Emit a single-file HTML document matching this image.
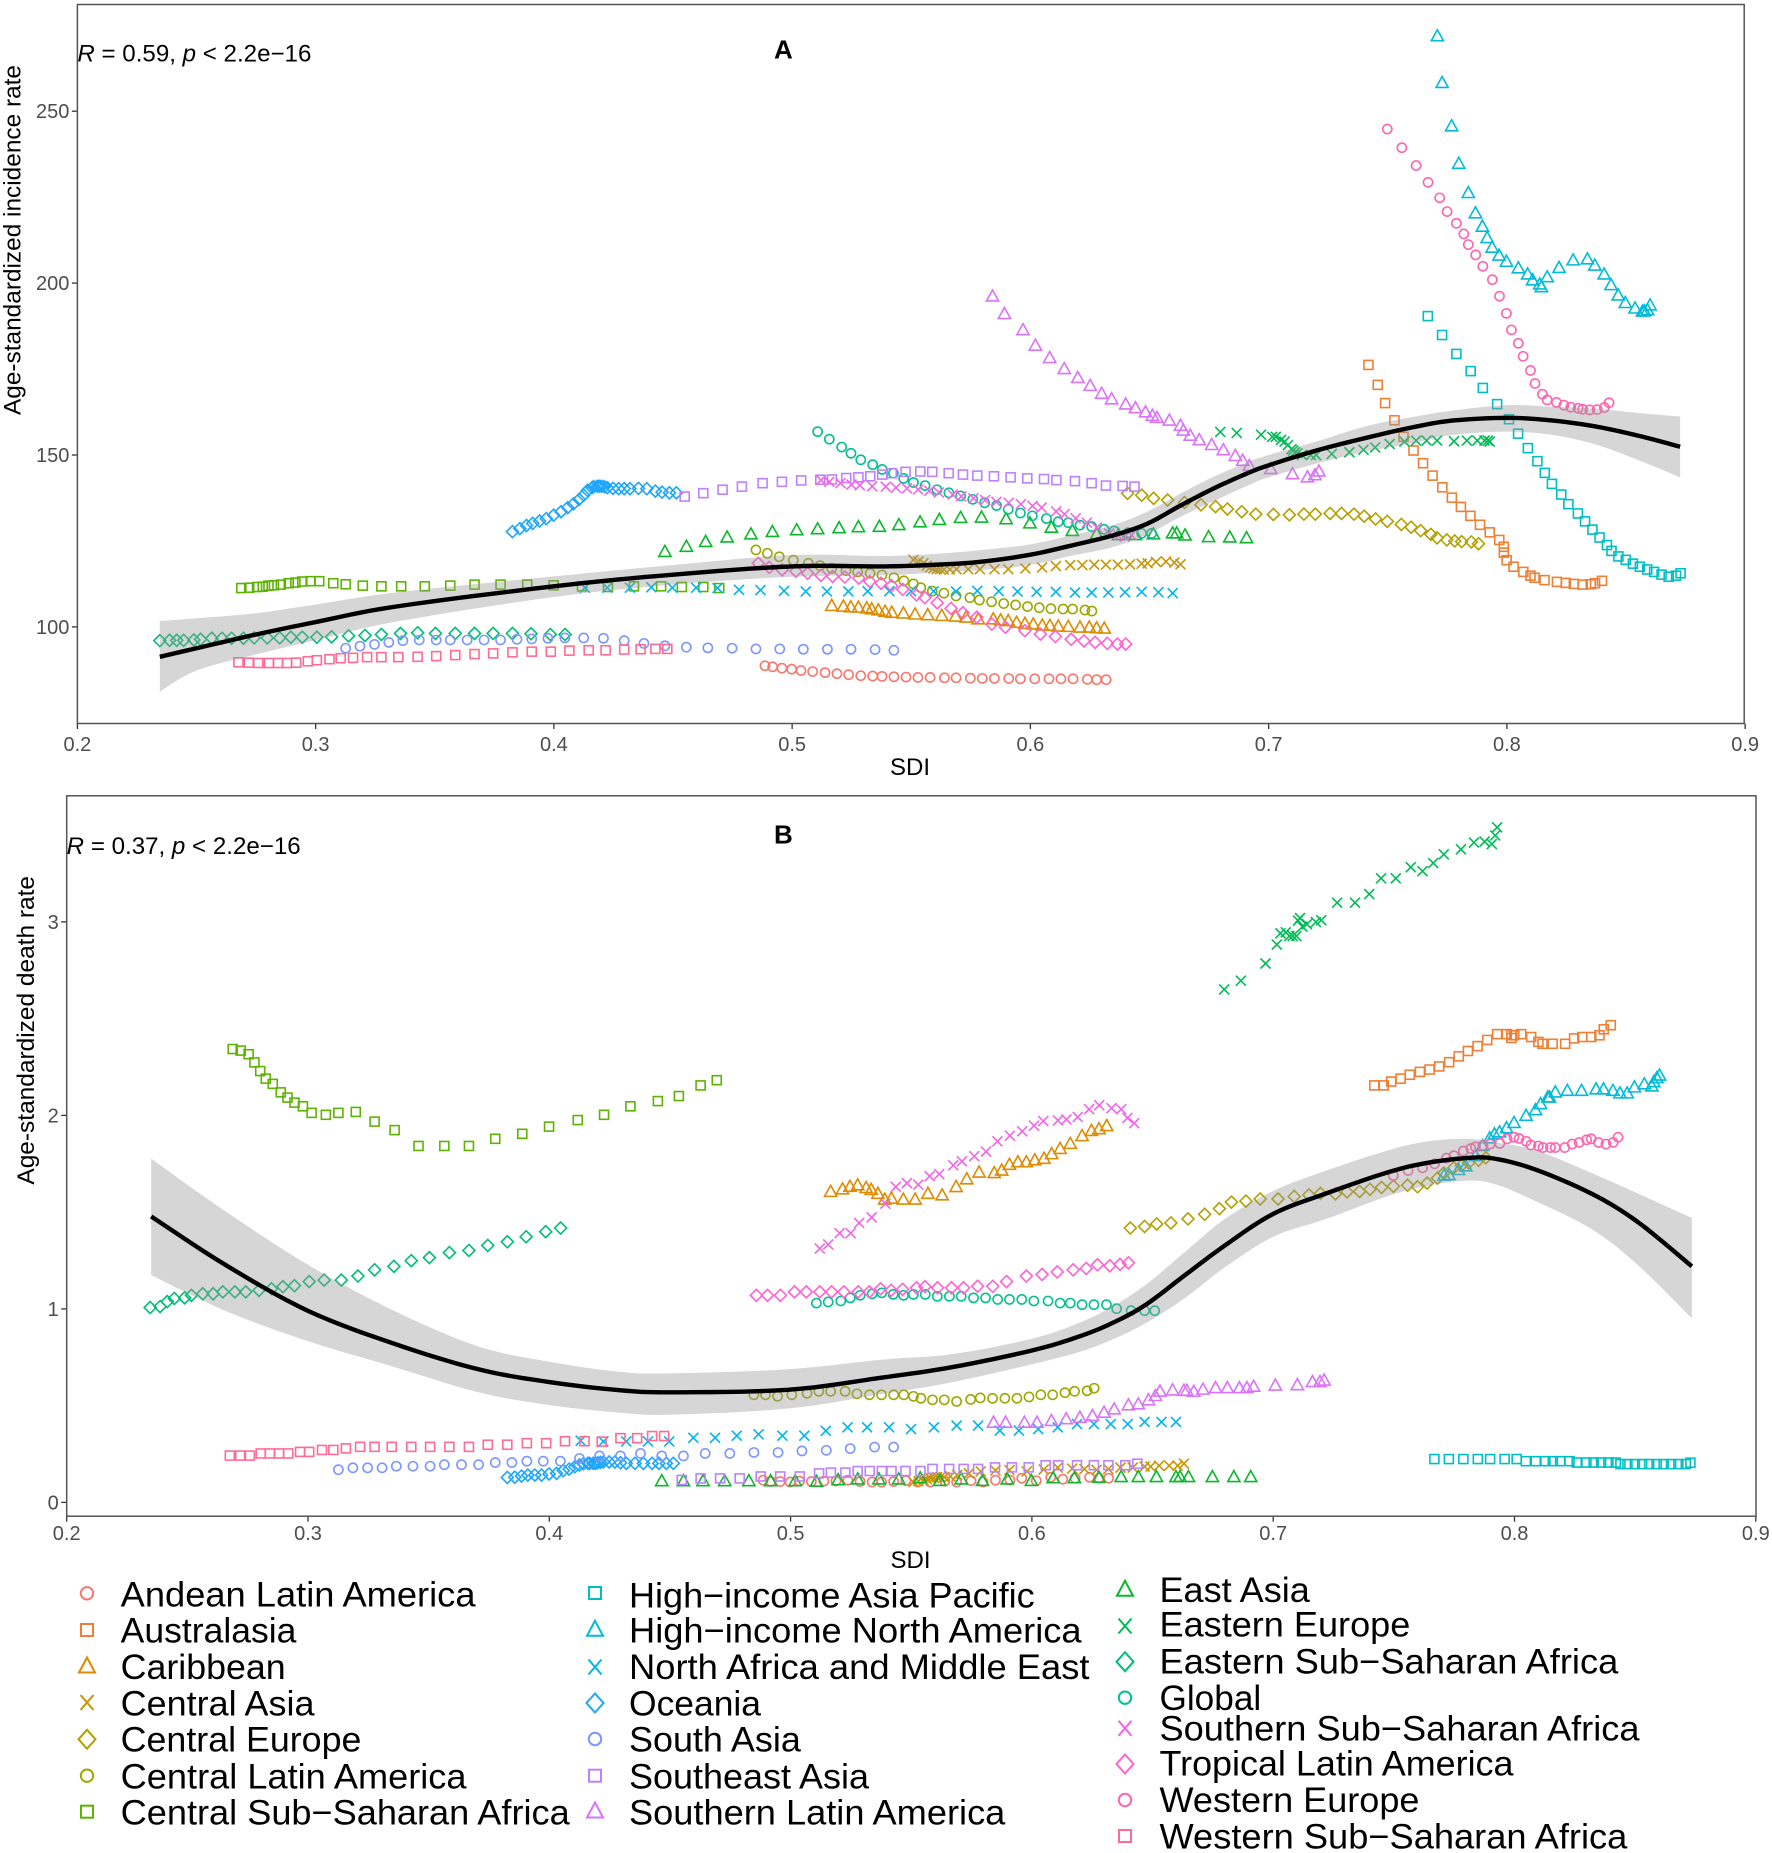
<!DOCTYPE html>
<html lang="en">
<head>
<meta charset="utf-8">
<title>SDI vs age-standardized incidence and death rate</title>
<style>
html,body{margin:0;padding:0;background:#fff;}
svg{display:block;font-family:"Liberation Sans",sans-serif;}
</style>
</head>
<body>
<svg id="chart" xmlns="http://www.w3.org/2000/svg" width="1772" height="1853" viewBox="0 0 1772 1853">
  <rect x="0" y="0" width="1772" height="1853" fill="#fff"/>

  <g id="panelA"></g>
  <g id="panelB"></g>

  <rect x="77.4" y="4.5" width="1666.8" height="719" fill="none" stroke="#555" stroke-width="1.5"/>
  <rect x="66.7" y="795.8" width="1689.3" height="720.4" fill="none" stroke="#555" stroke-width="1.5"/>

  <text x="77.4" y="61.5" font-size="24" fill="#000" textLength="234" lengthAdjust="spacingAndGlyphs"><tspan font-style="italic">R</tspan> = 0.59, <tspan font-style="italic">p</tspan> &lt; 2.2e−16</text>
  <text x="774" y="58.5" font-size="26" font-weight="bold" fill="#000">A</text>
  <text x="890" y="775" font-size="24" fill="#000">SDI</text>
  <text transform="translate(20.5,415) rotate(-90)" font-size="24" fill="#000" textLength="350" lengthAdjust="spacingAndGlyphs">Age-standardized incidence rate</text>

  <text x="66.7" y="853.8" font-size="24" fill="#000" textLength="234" lengthAdjust="spacingAndGlyphs"><tspan font-style="italic">R</tspan> = 0.37, <tspan font-style="italic">p</tspan> &lt; 2.2e−16</text>
  <text x="774" y="843.3" font-size="26" font-weight="bold" fill="#000">B</text>
  <text x="890.5" y="1568" font-size="24" fill="#000">SDI</text>
  <text transform="translate(34,1184.6) rotate(-90)" font-size="24" fill="#000" textLength="308.6" lengthAdjust="spacingAndGlyphs">Age-standardized death rate</text>

  <g font-size="35" fill="#000">
    <g>
      <circle cx="87" cy="1593.3" r="6.2" fill="none" stroke="#F8766D" stroke-width="2"/>
      <text x="120.7" y="1606.4" textLength="354.8" lengthAdjust="spacingAndGlyphs">Andean Latin America</text>
    </g>
    <g>
      <rect x="81" y="1624" width="12" height="12" fill="none" stroke="#EE7F35" stroke-width="2"/>
      <text x="120.7" y="1642.4" textLength="175.7" lengthAdjust="spacingAndGlyphs">Australasia</text>
    </g>
    <g>
      <path d="M87 1657.5L95 1672.5L79 1672.5Z" fill="none" stroke="#DF8A00" stroke-width="2"/>
      <text x="120.7" y="1679" textLength="165" lengthAdjust="spacingAndGlyphs">Caribbean</text>
    </g>
    <g>
      <path d="M80.5 1695L93.5 1710M93.5 1695L80.5 1710" fill="none" stroke="#C99500" stroke-width="2"/>
      <text x="120.7" y="1715.4" textLength="193.8" lengthAdjust="spacingAndGlyphs">Central Asia</text>
    </g>
    <g>
      <path d="M87 1729.8L95.5 1739.3L87 1748.8L78.5 1739.3Z" fill="none" stroke="#B3A000" stroke-width="2"/>
      <text x="120.7" y="1751.7" textLength="240.7" lengthAdjust="spacingAndGlyphs">Central Europe</text>
    </g>
    <g>
      <circle cx="87" cy="1775.7" r="6.2" fill="none" stroke="#9AA800" stroke-width="2"/>
      <text x="120.7" y="1788.4" textLength="345.8" lengthAdjust="spacingAndGlyphs">Central Latin America</text>
    </g>
    <g>
      <rect x="81" y="1805.7" width="12" height="12" fill="none" stroke="#5EB300" stroke-width="2"/>
      <text x="120.7" y="1824.4" textLength="449" lengthAdjust="spacingAndGlyphs">Central Sub−Saharan Africa</text>
    </g>

    <g>
      <rect x="589" y="1587" width="12" height="12" fill="none" stroke="#00BFC4" stroke-width="2"/>
      <text x="629" y="1607.4" textLength="405.7" lengthAdjust="spacingAndGlyphs">High−income Asia Pacific</text>
    </g>
    <g>
      <path d="M595 1620.8L603 1635.8L587 1635.8Z" fill="none" stroke="#00BBDA" stroke-width="2"/>
      <text x="629" y="1642.4" textLength="452.6" lengthAdjust="spacingAndGlyphs">High−income North America</text>
    </g>
    <g>
      <path d="M588.5 1659.5L601.5 1674.5M601.5 1659.5L588.5 1674.5" fill="none" stroke="#00B4EF" stroke-width="2"/>
      <text x="629" y="1679" textLength="460.5" lengthAdjust="spacingAndGlyphs">North Africa and Middle East</text>
    </g>
    <g>
      <path d="M595 1693.5L603.5 1703L595 1712.5L586.5 1703Z" fill="none" stroke="#1DA6FF" stroke-width="2"/>
      <text x="629" y="1715.4" textLength="132" lengthAdjust="spacingAndGlyphs">Oceania</text>
    </g>
    <g>
      <circle cx="595" cy="1739" r="6.2" fill="none" stroke="#7C96FF" stroke-width="2"/>
      <text x="629" y="1751.7" textLength="171.8" lengthAdjust="spacingAndGlyphs">South Asia</text>
    </g>
    <g>
      <rect x="589" y="1769.7" width="12" height="12" fill="none" stroke="#BD81FF" stroke-width="2"/>
      <text x="629" y="1788.4" textLength="240" lengthAdjust="spacingAndGlyphs">Southeast Asia</text>
    </g>
    <g>
      <path d="M595 1802.5L603 1817.5L587 1817.5Z" fill="none" stroke="#DA72FB" stroke-width="2"/>
      <text x="629" y="1824.4" textLength="376.3" lengthAdjust="spacingAndGlyphs">Southern Latin America</text>
    </g>

    <g>
      <path d="M1125 1580.8L1133 1595.8L1117 1595.8Z" fill="none" stroke="#0AB82A" stroke-width="2"/>
      <text x="1159.5" y="1602" textLength="150.3" lengthAdjust="spacingAndGlyphs">East Asia</text>
    </g>
    <g>
      <path d="M1118.5 1618.5L1131.5 1633.5M1131.5 1618.5L1118.5 1633.5" fill="none" stroke="#00BC56" stroke-width="2"/>
      <text x="1159.5" y="1636.3" textLength="250.8" lengthAdjust="spacingAndGlyphs">Eastern Europe</text>
    </g>
    <g>
      <path d="M1125 1652.2L1133.5 1661.7L1125 1671.2L1116.5 1661.7Z" fill="none" stroke="#00BE76" stroke-width="2"/>
      <text x="1159.5" y="1673.7" textLength="458.8" lengthAdjust="spacingAndGlyphs">Eastern Sub−Saharan Africa</text>
    </g>
    <g>
      <circle cx="1125" cy="1697.7" r="6.2" fill="none" stroke="#00C094" stroke-width="2"/>
      <text x="1159.5" y="1710" textLength="101.7" lengthAdjust="spacingAndGlyphs">Global</text>
    </g>
    <g>
      <path d="M1118.5 1720.8L1131.5 1735.8M1131.5 1720.8L1118.5 1735.8" fill="none" stroke="#F265E7" stroke-width="2"/>
      <text x="1159.5" y="1740.7" textLength="480" lengthAdjust="spacingAndGlyphs">Southern Sub−Saharan Africa</text>
    </g>
    <g>
      <path d="M1125 1754.5L1133.5 1764L1125 1773.5L1116.5 1764Z" fill="none" stroke="#FF62D2" stroke-width="2"/>
      <text x="1159.5" y="1775.7" textLength="354" lengthAdjust="spacingAndGlyphs">Tropical Latin America</text>
    </g>
    <g>
      <circle cx="1125" cy="1800" r="6.2" fill="none" stroke="#FF64B0" stroke-width="2"/>
      <text x="1159.5" y="1812" textLength="260" lengthAdjust="spacingAndGlyphs">Western Europe</text>
    </g>
    <g>
      <rect x="1119" y="1830" width="12" height="12" fill="none" stroke="#FF6B93" stroke-width="2"/>
      <text x="1159.5" y="1848.7" textLength="467.8" lengthAdjust="spacingAndGlyphs">Western Sub−Saharan Africa</text>
    </g>
  </g>
</svg>

<script>
const xTickValues = [0.2, 0.3, 0.4, 0.5, 0.6, 0.7, 0.8, 0.9];
const xTickLabels = ['0.2', '0.3', '0.4', '0.5', '0.6', '0.7', '0.8', '0.9'];
const incidenceTickValues = [100, 150, 200, 250];
const incidenceTickLabels = ['100', '150', '200', '250'];
const deathTickValues = [0, 1, 2, 3];
const deathTickLabels = ['0', '1', '2', '3'];

const andeanSdi = [.4886,.4918,.4957,.4998,.5037,.5086,.5138,.5188,.5237,.5288,.5338,.5377,.5427,.5478,.5528,.5579,.5639,.5688,.5748,.5798,.5849,.5909,.5958,.6018,.6078,.6128,.6179,.6239,.6278,.6318];
const andeanIncidence = [88.7,88.4,88,87.7,87.3,87,86.7,86.4,86.1,85.8,85.7,85.6,85.5,85.4,85.3,85.3,85.2,85.2,85.1,85,85,85,84.9,84.9,84.9,84.9,84.9,84.75,84.65,84.65];
const andeanDeath = [.115,.108,.108,.105,.11,.108,.11,.11,.115,.108,.105,.105,.108,.112,.105,.105,.11,.105,.112,.105,.115,.115,.125,.112,.13,.12,.125,.13,.125,.125];

const australasiaSdi = [.7419,.7458,.7489,.7528,.7566,.7608,.7648,.7688,.7729,.7769,.7807,.7847,.7887,.7928,.7968,.7987,.7987,.7999,.8028,.8069,.8099,.8116,.8158,.821,.8247,.8281,.8318,.8352,.837,.8399];
const australasiaIncidence = [176.2,170.4,165.1,160.1,155.3,151.3,147.6,144,140.6,137.6,134.9,132.3,129.7,127.5,125.3,123.3,121.6,119.4,117.5,116,114.9,114.3,113.6,113.1,112.8,112.5,112.3,112.4,112.7,113.4];
const australasiaDeath = [2.155,2.155,2.175,2.19,2.21,2.225,2.237,2.253,2.275,2.305,2.333,2.358,2.39,2.42,2.42,2.415,2.4,2.414,2.42,2.405,2.38,2.37,2.37,2.37,2.398,2.405,2.405,2.414,2.445,2.466];

const caribbeanSdi = [.5166,.5215,.5246,.5278,.5313,.5334,.5362,.539,.5418,.5467,.5516,.5569,.5628,.5686,.573,.5781,.5844,.5875,.5907,.5942,.5977,.6012,.605,.6082,.6117,.6159,.6208,.6247,.6278,.631];
const caribbeanIncidence = [106.4,106.2,106,105.9,105.7,105.4,105.1,104.7,104.4,104.2,103.9,103.7,103.5,103.3,103,102.5,102.5,102.2,102,101.5,101.2,101,100.7,100.6,100.4,100.3,100.1,100.1,99.9,99.8];
const caribbeanDeath = [1.61,1.623,1.636,1.644,1.63,1.62,1.6,1.57,1.575,1.57,1.57,1.6,1.592,1.635,1.675,1.71,1.707,1.72,1.75,1.763,1.763,1.773,1.781,1.805,1.832,1.858,1.898,1.925,1.934,1.95];

const centralAsiaSdi = [.5509,.553,.5551,.5565,.5579,.5593,.5607,.5621,.5637,.5662,.569,.5739,.5788,.5849,.5907,.5979,.6049,.6107,.6167,.6218,.6268,.6317,.6367,.6418,.6467,.6492,.6527,.6569,.6604,.663];
const centralAsiaIncidence = [119.5,119,118.5,117.8,117.3,117,116.8,116.8,116.7,116.7,116.8,116.8,116.8,116.8,116.8,117,117.3,117.7,118,118,118.1,118.1,118.1,118.2,118.4,118.5,118.9,119,118.7,118.2];
const centralAsiaDeath = [.105,.11,.115,.12,.125,.128,.13,.13,.13,.135,.142,.15,.16,.165,.167,.16,.17,.18,.175,.172,.168,.172,.18,.18,.185,.185,.19,.19,.19,.2];

const centralEuropeSdi = [.6408,.6467,.6517,.6576,.6647,.6716,.6777,.6827,.6887,.6946,.702,.7087,.7148,.7196,.7258,.7306,.7358,.7401,.7449,.7498,.7557,.7598,.7638,.7681,.7707,.7748,.7781,.781,.7851,.7881];
const centralEuropeIncidence = [138.85,138.3,137.4,136.9,136.2,135.5,135,134.3,133.5,132.8,132.7,132.6,132.8,132.8,133,133,132.8,132.2,131.4,130.7,129.8,129,128,126.9,125.9,125.3,125,124.8,124.7,124.2];
const centralEuropeDeath = [1.418,1.426,1.439,1.444,1.465,1.489,1.518,1.552,1.557,1.568,1.568,1.581,1.589,1.597,1.594,1.605,1.607,1.618,1.628,1.634,1.639,1.631,1.65,1.676,1.702,1.729,1.742,1.755,1.768,1.781];

const centralLatinSdi = [.4848,.4896,.4946,.5005,.5068,.5117,.5166,.5226,.5275,.5327,.5377,.5427,.5469,.5509,.554,.5588,.5637,.5688,.5746,.5786,.5837,.5888,.5938,.5988,.6037,.6086,.6137,.6177,.6229,.6258];
const centralLatinIncidence = [122.4,121.4,120.4,119.4,118.5,117.8,117,116.4,116,115.6,115.1,114.3,113.4,112.5,111.4,110.4,109.8,109,108.5,107.8,107.3,106.8,106.4,105.9,105.6,105.3,105.2,105.2,104.9,104.6];
const centralLatinDeath = [.556,.556,.548,.556,.564,.574,.574,.574,.561,.556,.556,.556,.556,.548,.538,.53,.53,.522,.532,.54,.538,.538,.538,.545,.556,.556,.567,.574,.577,.59];

const centralSubSaharanSdi = [.2688,.2721,.2754,.2778,.2802,.2825,.2854,.2887,.2915,.2944,.2979,.3015,.3074,.3126,.3198,.3276,.3359,.3458,.3565,.3667,.3776,.3888,.3999,.4118,.4227,.4336,.445,.4537,.4627,.4694];
const centralSubSaharanIncidence = [111.3,111.4,111.6,111.7,112,112.1,112.3,112.7,112.9,113.2,113.3,113.3,112.7,112.4,112,111.8,111.8,111.8,112,112.3,112.3,112.3,112.1,111.8,111.6,111.8,111.8,111.6,111.6,111.3];
const centralSubSaharanDeath = [2.343,2.335,2.316,2.274,2.229,2.19,2.163,2.119,2.092,2.066,2.047,2.013,2.003,2.013,2.018,1.968,1.924,1.842,1.842,1.842,1.879,1.905,1.942,1.976,2.003,2.047,2.074,2.1,2.155,2.182];

const eastAsiaSdi = [.4466,.4556,.4637,.4727,.4827,.4917,.5019,.5107,.5197,.5278,.5366,.5448,.5537,.5618,.5707,.5795,.5898,.5998,.6088,.6176,.6278,.637,.6441,.6516,.6597,.6614,.6649,.6748,.6837,.6907];
const eastAsiaIncidence = [122.1,123.6,125,126.3,127.2,127.9,128.4,128.7,129,129.3,129.4,129.9,130.7,131.4,132,132.1,131.6,130.4,129.15,128.2,127.2,127,127,127.2,127.5,127.5,126.9,126.4,126.3,126.1];
const eastAsiaDeath = [.115,.115,.115,.115,.115,.115,.115,.112,.12,.124,.124,.124,.13,.116,.124,.116,.124,.116,.13,.13,.133,.136,.136,.136,.136,.136,.136,.136,.136,.136];

const easternEuropeSdi = [.6797,.6866,.6968,.7015,.703,.7052,.7067,.7081,.7096,.7103,.7111,.7121,.714,.7177,.7199,.7265,.7339,.7398,.7447,.7508,.757,.7619,.7663,.7707,.7778,.7832,.7876,.7906,.792,.7928];
const easternEuropeIncidence = [156.7,156.4,155.9,155.3,155.3,154.4,153.9,152.9,151.7,151.3,150.8,150.5,150,150,150,150.3,150.8,151.5,152.2,153.2,153.9,154.2,154.2,154.2,154,154.2,154.2,154.2,154.2,153.9];
const easternEuropeDeath = [2.651,2.696,2.785,2.883,2.941,2.946,2.927,2.927,2.927,3.007,3.02,2.975,2.988,2.999,3.009,3.099,3.099,3.144,3.225,3.225,3.283,3.262,3.304,3.349,3.375,3.41,3.415,3.402,3.447,3.489];

const easternSubSaharanSdi = [.2346,.2387,.2417,.2446,.2489,.2517,.2564,.2607,.2647,.2697,.2742,.2797,.2849,.2896,.2944,.3005,.3067,.3138,.3207,.3276,.3356,.3428,.3503,.3586,.3667,.3745,.3826,.3904,.3985,.4047];
const easternSubSaharanIncidence = [96,96.1,96.1,96.1,96.2,96.4,96.7,96.7,96.7,96.7,96.8,96.8,96.8,97,97,97,97.1,97.4,97.5,97.8,98.1,98.3,98.1,98.1,98.1,98.1,98.1,98,97.8,97.8];
const easternSubSaharanDeath = [1.007,1.012,1.038,1.054,1.057,1.07,1.078,1.078,1.088,1.088,1.088,1.096,1.104,1.115,1.12,1.141,1.149,1.149,1.17,1.202,1.22,1.249,1.265,1.291,1.302,1.328,1.347,1.373,1.399,1.418];

const globalSdi = [.5107,.5156,.5208,.5247,.5288,.5338,.5378,.5425,.5468,.5509,.5558,.5608,.5658,.5707,.5758,.5808,.5858,.5907,.5958,.6008,.6067,.6117,.6159,.6208,.6257,.6309,.6351,.6411,.6467,.6509];
const globalIncidence = [156.8,154.6,152.3,150.5,148.6,147.2,145.8,144.7,143.2,142,141.1,139.9,139,138.1,137.1,136.1,135.3,134.2,133.1,132.3,131.5,130.6,130.3,129.6,129.2,128.4,127.9,127.4,127.2,127.2];
const globalDeath = [1.03,1.036,1.041,1.057,1.07,1.078,1.083,1.075,1.07,1.075,1.075,1.065,1.065,1.065,1.057,1.057,1.049,1.049,1.049,1.041,1.041,1.03,1.03,1.022,1.022,1.022,1.001,.991,.991,.991];

const asiaPacificSdi = [.7668,.7728,.7788,.7848,.7899,.7959,.8009,.8047,.8088,.8128,.8159,.8189,.8228,.8258,.8298,.8328,.8359,.8389,.842,.8439,.8468,.8499,.8529,.8558,.8589,.8618,.8649,.8679,.871,.8729];
const asiaPacificIncidence = [190.4,184.9,179.4,174.4,169.5,164.8,160.4,156.2,152,148.2,144.8,141.6,138.5,135.7,133,130.7,128.3,126,123.8,122.1,120.5,119.5,118.4,117.5,116.7,116,115.2,114.6,114.9,115.6];
const asiaPacificDeath = [.224,.224,.224,.224,.224,.224,.224,.213,.213,.213,.213,.213,.213,.206,.206,.206,.206,.206,.206,.198,.198,.198,.198,.198,.198,.198,.198,.198,.198,.205];

const northAmericaSdi = [.7708,.7728,.7768,.7798,.7838,.7868,.7897,.7917,.7938,.7967,.7998,.8048,.8087,.8108,.8138,.8145,.8169,.8219,.8278,.8338,.8369,.8408,.8437,.8467,.8497,.8538,.8569,.8577,.859,.8601];
const northAmericaIncidence = [272.1,258.5,245.9,235,226.5,220.6,216.7,213.4,210.6,208.3,206.5,204.6,202.8,201.1,199.9,199.1,202,204.7,206.9,207.2,205.4,202.8,199.7,196.7,194.5,192.9,192,192.1,192.4,193.8];
const northAmericaDeath = [1.694,1.697,1.723,1.742,1.794,1.847,1.887,1.908,1.918,1.939,1.966,2.003,2.032,2.063,2.098,2.098,2.124,2.132,2.132,2.14,2.14,2.132,2.119,2.119,2.15,2.166,2.155,2.177,2.198,2.211];

const middleEastSdi = [.413,.4224,.4319,.4409,.4497,.4597,.4687,.4777,.4867,.4966,.5057,.5146,.5236,.5317,.5408,.5499,.5594,.5688,.5777,.5867,.5946,.6026,.6107,.6187,.6257,.6327,.6397,.6467,.6537,.6597];
const middleEastIncidence = [111.4,111.4,111.4,111.5,111.4,111.4,111.3,110.8,110.7,110.5,110.3,110.3,110.3,110.4,110.4,110.4,110.4,110.3,110.5,110.4,110.3,110.2,110.2,110,110,110,110.1,110.2,110.1,109.8];
const middleEastDeath = [.319,.315,.315,.315,.315,.334,.334,.345,.352,.345,.345,.37,.388,.388,.388,.379,.388,.397,.397,.371,.371,.379,.388,.405,.405,.405,.405,.416,.416,.416];

const oceaniaSdi = [.3826,.3857,.3885,.3911,.394,.3968,.3999,.403,.4058,.4082,.4106,.4125,.4141,.416,.4167,.4182,.4191,.42,.4212,.4224,.4248,.4272,.4295,.4319,.4355,.439,.4426,.4454,.4485,.4514];
const oceaniaIncidence = [127.7,128.6,129.5,130.1,130.8,131.5,132.5,133.5,134.7,135.8,137.1,138.3,139.7,140.5,140.8,140.9,140.9,140.9,140.8,140.5,140.3,140.2,140.2,140.2,140.3,140.2,139.5,139.2,139,139];
const oceaniaDeath = [.129,.13,.136,.141,.141,.141,.147,.15,.164,.172,.184,.193,.2,.202,.202,.202,.202,.205,.207,.209,.209,.209,.205,.202,.202,.202,.202,.202,.202,.202];

const southAsiaSdi = [.3126,.3186,.3247,.3307,.3366,.3435,.3506,.3565,.3636,.3707,.3776,.3845,.3907,.3975,.4046,.4125,.4208,.4295,.4378,.4466,.4556,.4646,.4748,.4848,.4948,.5047,.5148,.5247,.5348,.5427];
const southAsiaIncidence = [93.8,94.4,94.9,95.5,96,96.2,96.2,96.2,96.2,96.2,96.2,96.4,96.5,96.7,96.8,96.8,96.7,96,95.2,94.5,94.1,93.9,93.8,93.6,93.6,93.5,93.5,93.5,93.4,93.2];
const southAsiaDeath = [.169,.179,.179,.179,.187,.187,.187,.195,.195,.195,.206,.206,.213,.213,.213,.227,.24,.24,.253,.24,.24,.253,.253,.258,.258,.266,.269,.278,.286,.286];

const southeastAsiaSdi = [.4549,.4627,.4708,.4789,.4876,.4957,.5038,.5118,.5167,.5227,.5278,.5328,.5378,.5418,.5476,.5538,.5588,.5657,.5717,.5777,.5847,.5917,.5987,.6057,.6109,.6187,.6257,.6317,.6387,.6437];
const southeastAsiaIncidence = [137.9,138.9,139.9,140.8,141.8,142.2,142.6,142.8,142.9,143.3,143.5,143.8,144.3,144.7,145.1,145.2,145.1,144.7,144.3,144,143.8,143.5,143.2,143,142.7,142.4,141.8,141.1,141,140.8];
const southeastAsiaDeath = [.116,.124,.124,.124,.134,.134,.134,.15,.154,.154,.162,.162,.162,.162,.162,.162,.173,.173,.173,.173,.181,.181,.181,.192,.192,.192,.192,.192,.192,.2];

const southernLatinSdi = [.5841,.5891,.5969,.6021,.6081,.6142,.6199,.6251,.6299,.6341,.64,.6441,.6483,.6512,.6531,.6583,.663,.6642,.6671,.6709,.6761,.681,.686,.6891,.6919,.7009,.71,.7163,.7194,.7211];
const southernLatinIncidence = [196.4,191.3,186.6,182.1,178.5,175.3,172.7,170.4,168.1,166.5,165,163.9,162.7,161.7,161.1,160.3,158.8,157.4,155.9,154.6,153.2,151.7,150,148.6,147.1,146.2,144.7,143.8,144.4,145.5];
const southernLatinDeath = [.417,.417,.417,.417,.426,.435,.443,.452,.469,.486,.507,.512,.533,.555,.578,.584,.582,.582,.577,.588,.596,.596,.596,.596,.603,.609,.611,.627,.627,.635];

const southernSubSaharanSdi = [.5121,.5156,.5203,.5249,.5284,.5336,.5393,.5436,.5482,.5529,.5576,.5616,.5674,.571,.5761,.581,.5857,.5909,.596,.6009,.6047,.6108,.6143,.619,.6237,.6279,.633,.637,.6396,.6424];
const southernSubSaharanIncidence = [142.7,142.2,141.8,141.4,141.2,140.9,140.8,140.5,140.3,140,139.6,139.1,138.5,138,137.4,136.9,136.4,136.1,135.7,135.2,134.7,133.6,132.8,131.6,130.3,128.9,127.2,126.5,126.2,126.7];
const southernSubSaharanDeath = [1.312,1.333,1.391,1.391,1.444,1.473,1.544,1.631,1.65,1.642,1.686,1.697,1.742,1.763,1.789,1.813,1.866,1.895,1.918,1.947,1.971,1.974,1.979,1.992,2.032,2.053,2.037,2.032,1.987,1.96];

const tropicalLatinSdi = [.4858,.4904,.4958,.5016,.5065,.5121,.517,.5221,.528,.5326,.5373,.5417,.5464,.5522,.5557,.5609,.5667,.5717,.5775,.5838,.5895,.5977,.6042,.6105,.6171,.6225,.6272,.6323,.6365,.64];
const tropicalLatinIncidence = [118.5,117.3,116.6,116.2,115.6,115,114.7,114.5,114.2,113.2,112.7,112,110.9,109.3,108.5,107,105.4,104.1,102.8,100.8,99.9,98.9,97.9,97.2,96.4,95.9,95.5,95.2,95,95];
const tropicalLatinDeath = [1.07,1.07,1.07,1.088,1.088,1.088,1.088,1.088,1.088,1.088,1.104,1.096,1.101,1.109,1.115,1.109,1.109,1.109,1.117,1.117,1.141,1.17,1.178,1.191,1.202,1.209,1.228,1.223,1.23,1.238];

const westernEuropeSdi = [.7498,.7559,.7619,.7669,.7718,.7749,.7788,.7819,.7838,.7869,.7899,.7939,.7969,.7998,.8019,.8048,.8068,.8099,.8118,.8149,.8169,.8208,.8239,.8268,.8299,.8318,.8348,.8379,.8409,.8429];
const westernEuropeIncidence = [244.8,239.4,234.2,229.3,224.8,220.8,217.4,214.3,211.2,208.2,204.9,201,196.2,191.2,186.4,182.5,178.7,174.6,170.8,167.7,166,165.3,164.5,163.9,163.6,163.3,163.1,163.2,163.8,165.2];
const westernEuropeDeath = [1.689,1.715,1.729,1.75,1.779,1.792,1.816,1.829,1.837,1.845,1.852,1.855,1.879,1.887,1.881,1.866,1.847,1.842,1.834,1.834,1.834,1.834,1.852,1.86,1.874,1.879,1.86,1.852,1.86,1.887];

const westernSubSaharanSdi = [.2676,.2719,.2759,.2804,.2842,.288,.2918,.2967,.3005,.3058,.3105,.3157,.3216,.3276,.3347,.3428,.3506,.3586,.3667,.3745,.3826,.3907,.3987,.4065,.4146,.4217,.4295,.4364,.4426,.4476];
const westernSubSaharanIncidence = [89.7,89.6,89.5,89.5,89.5,89.5,89.6,90,90.3,90.6,90.9,91,91.2,91.2,91.2,91.3,91.5,91.8,92.1,92.3,92.6,92.8,92.8,93.1,93.2,93.2,93.4,93.5,93.6,93.6];
const westernSubSaharanDeath = [.242,.242,.242,.253,.253,.253,.253,.261,.261,.271,.271,.279,.287,.287,.287,.287,.287,.287,.287,.298,.298,.306,.306,.316,.316,.314,.332,.332,.343,.343];

const incidenceSmoothSdi = [.2346,.25,.275,.3,.3335,.4,.45,.5,.539,.5635,.58,.6,.618,.6346,.649,.663,.677,.6915,.7,.72,.741,.76,.777,.8,.8194,.838,.857,.8727];
const incidenceSmoothFit = [91.3,93.8,97.8,101.4,105.9,111.8,115.2,117.6,117.6,118.2,119,121,123.8,126.6,130,135.3,140.3,144.8,147,151.3,155,158,160,160.8,160,158.2,155.3,152.4];
const incidenceSmoothHigh = [101.7,102.5,104,106.5,110,114.7,118,120.9,120.6,121.4,122.4,124,126.8,129.6,133.5,138.8,143.7,148,150,153.9,158.4,161,162.9,164.5,164,163.4,162.1,161.2];
const incidenceSmoothLow = [81.2,87.3,92,96.1,101.5,108.7,112.3,114.6,115,116,116.6,118,120.8,123.2,126.9,132,136.6,141.2,143.5,147.5,151,153.4,155.8,156.8,155.8,152.9,148,143.5];

const deathSmoothSdi = [.235,.2657,.3,.3357,.3706,.4,.429,.45,.4988,.538,.5674,.6,.619,.633,.647,.6635,.68,.7,.722,.7478,.764,.7806,.792,.8087,.832,.851,.8735];
const deathSmoothFit = [1.478,1.228,.99,.82,.688,.622,.58,.569,.582,.645,.70,.785,.855,.925,1.02,1.175,1.328,1.491,1.597,1.707,1.755,1.78,1.776,1.72,1.595,1.45,1.22];
const deathSmoothHigh = [1.776,1.505,1.228,.99,.806,.727,.675,.667,.688,.738,.767,.846,.925,1.01,1.123,1.295,1.465,1.61,1.715,1.82,1.866,1.879,1.86,1.82,1.702,1.597,1.47];
const deathSmoothLow = [1.175,.99,.833,.70,.569,.503,.464,.453,.485,.56,.622,.714,.775,.84,.925,1.057,1.215,1.373,1.465,1.584,1.636,1.663,1.644,1.557,1.412,1.228,.951];

const seriesNames = ['andean-latin-america','australasia','caribbean','central-asia','central-europe','central-latin-america','central-sub-saharan-africa','east-asia','eastern-europe','eastern-sub-saharan-africa','global','high-income-asia-pacific','high-income-north-america','north-africa-and-middle-east','oceania','south-asia','southeast-asia','southern-latin-america','southern-sub-saharan-africa','tropical-latin-america','western-europe','western-sub-saharan-africa'];
const seriesSdi = [andeanSdi,australasiaSdi,caribbeanSdi,centralAsiaSdi,centralEuropeSdi,centralLatinSdi,centralSubSaharanSdi,eastAsiaSdi,easternEuropeSdi,easternSubSaharanSdi,globalSdi,asiaPacificSdi,northAmericaSdi,middleEastSdi,oceaniaSdi,southAsiaSdi,southeastAsiaSdi,southernLatinSdi,southernSubSaharanSdi,tropicalLatinSdi,westernEuropeSdi,westernSubSaharanSdi];
const seriesIncidence = [andeanIncidence,australasiaIncidence,caribbeanIncidence,centralAsiaIncidence,centralEuropeIncidence,centralLatinIncidence,centralSubSaharanIncidence,eastAsiaIncidence,easternEuropeIncidence,easternSubSaharanIncidence,globalIncidence,asiaPacificIncidence,northAmericaIncidence,middleEastIncidence,oceaniaIncidence,southAsiaIncidence,southeastAsiaIncidence,southernLatinIncidence,southernSubSaharanIncidence,tropicalLatinIncidence,westernEuropeIncidence,westernSubSaharanIncidence];
const seriesDeath = [andeanDeath,australasiaDeath,caribbeanDeath,centralAsiaDeath,centralEuropeDeath,centralLatinDeath,centralSubSaharanDeath,eastAsiaDeath,easternEuropeDeath,easternSubSaharanDeath,globalDeath,asiaPacificDeath,northAmericaDeath,middleEastDeath,oceaniaDeath,southAsiaDeath,southeastAsiaDeath,southernLatinDeath,southernSubSaharanDeath,tropicalLatinDeath,westernEuropeDeath,westernSubSaharanDeath];

const seriesColors = ['#F8766D','#EE7F35','#DF8A00','#C99500','#B3A000','#9AA800','#5EB300','#0AB82A','#00BC56','#00BE76','#00C094','#00BFC4','#00BBDA','#00B4EF','#1DA6FF','#7C96FF','#BD81FF','#DA72FB','#F265E7','#FF62D2','#FF64B0','#FF6B93'];
const seriesShapes = ['circle','square','triangle','cross','diamond','circle','square','triangle','cross','diamond','circle','square','triangle','cross','diamond','circle','square','triangle','cross','diamond','circle','square'];

const SVG_NS = 'http://www.w3.org/2000/svg';

function xScaleIncidence(v) { return 77.4 + (v - 0.2) * 2382.5; }
function yScaleIncidence(v) { return 626.9 - (v - 100) * 3.438; }
function xScaleDeath(v) { return 66.7 + (v - 0.2) * 2413; }
function yScaleDeath(v) { return 1502.4 - v * 193.5; }

function make(parent, tag, props) {
  const node = document.createElementNS(SVG_NS, tag);
  for (const key in props) node.setAttribute(key, props[key]);
  parent.appendChild(node);
  return node;
}

function markGeometry(shape, cx, cy) {
  if (shape === 'triangle') return 'M' + cx + ' ' + (cy - 5.5) + 'L' + (cx + 6.1) + ' ' + (cy + 5.5) + 'L' + (cx - 6.1) + ' ' + (cy + 5.5) + 'Z';
  if (shape === 'cross') return 'M' + (cx - 5) + ' ' + (cy - 5) + 'L' + (cx + 5) + ' ' + (cy + 5) + 'M' + (cx + 5) + ' ' + (cy - 5) + 'L' + (cx - 5) + ' ' + (cy + 5);
  if (shape === 'diamond') return 'M' + cx + ' ' + (cy - 6) + 'L' + (cx + 6) + ' ' + cy + 'L' + cx + ' ' + (cy + 6) + 'L' + (cx - 6) + ' ' + cy + 'Z';
  return '';
}

function drawMark(group, shape, color, cx, cy) {
  let el;
  if (shape === 'circle') {
    el = make(group, 'circle', { cx: cx, cy: cy, r: 4.6 });
  } else if (shape === 'square') {
    el = make(group, 'rect', { x: cx - 4.5, y: cy - 4.5, width: 9, height: 9 });
  } else {
    el = make(group, 'path', { d: markGeometry(shape, cx, cy) });
  }
  el.setAttribute('fill', 'none');
  el.setAttribute('stroke', color);
  el.setAttribute('stroke-width', '1.6');
  return el;
}

function smoothCurve(points) {
  const out = [];
  for (let i = 0; i < points.length - 1; i++) {
    const p0 = points[Math.max(0, i - 1)];
    const p1 = points[i];
    const p2 = points[i + 1];
    const p3 = points[Math.min(points.length - 1, i + 2)];
    for (let s = 0; s < 8; s++) {
      const t = s / 8;
      const t2 = t * t;
      const t3 = t2 * t;
      out.push([
        0.5 * (2 * p1[0] + (p2[0] - p0[0]) * t + (2 * p0[0] - 5 * p1[0] + 4 * p2[0] - p3[0]) * t2 + (3 * p1[0] - p0[0] - 3 * p2[0] + p3[0]) * t3),
        0.5 * (2 * p1[1] + (p2[1] - p0[1]) * t + (2 * p0[1] - 5 * p1[1] + 4 * p2[1] - p3[1]) * t2 + (3 * p1[1] - p0[1] - 3 * p2[1] + p3[1]) * t3)
      ]);
    }
  }
  out.push(points[points.length - 1]);
  return out;
}

function toPoints(xs, ys, sx, sy) {
  return xs.map(function (x, i) { return [sx(x), sy(ys[i])]; });
}

function pathFrom(points, close) {
  return points.map(function (p, i) { return (i ? 'L' : 'M') + p[0].toFixed(2) + ' ' + p[1].toFixed(2); }).join('') + (close ? 'Z' : '');
}

function drawPanel(panel, values, sx, sy, yTicks, yLabels, axisBottom, axisLeft, xLabelBaseline, smoothSdi, smoothFit, smoothHigh, smoothLow) {
  seriesNames.forEach(function (name, s) {
    const group = make(panel, 'g', {});
    
    
    seriesSdi[s].forEach(function (sdi, i) {
      const mark = drawMark(group, seriesShapes[s], seriesColors[s], sx(sdi), sy(values[s][i]));
      
      
    });
  });

  const high = smoothCurve(toPoints(smoothSdi, smoothHigh, sx, sy));
  const low = smoothCurve(toPoints(smoothSdi, smoothLow, sx, sy));
  const ribbon = make(panel, 'path', { d: pathFrom(high.concat(low.slice().reverse()), true), fill: '#999999', 'fill-opacity': '0.4', stroke: 'none' });
  
  

  const fit = make(panel, 'path', { d: pathFrom(smoothCurve(toPoints(smoothSdi, smoothFit, sx, sy)), false), fill: 'none', stroke: '#000', 'stroke-width': '4.4', 'stroke-linejoin': 'round' });
  
  

  xTickValues.forEach(function (v, i) {
    const px = sx(v);
    const tick = make(panel, 'line', { x1: px, x2: px, y1: axisBottom, y2: axisBottom + 5.5, stroke: '#333', 'stroke-width': '1.3' });
    
    
    const label = make(panel, 'text', { x: px, y: xLabelBaseline, 'font-size': '20', fill: '#4D4D4D', 'text-anchor': 'middle' });
    label.textContent = xTickLabels[i];
    
    
  });

  yTicks.forEach(function (v, i) {
    const py = sy(v);
    const tick = make(panel, 'line', { x1: axisLeft - 5.5, x2: axisLeft, y1: py, y2: py, stroke: '#333', 'stroke-width': '1.3' });
    
    
    const label = make(panel, 'text', { x: axisLeft - 8, y: py + 7, 'font-size': '20', fill: '#4D4D4D', 'text-anchor': 'end' });
    label.textContent = yLabels[i];
    
    
  });
}

drawPanel(document.getElementById('panelA'), seriesIncidence, xScaleIncidence, yScaleIncidence, incidenceTickValues, incidenceTickLabels, 723.5, 77.4, 751, incidenceSmoothSdi, incidenceSmoothFit, incidenceSmoothHigh, incidenceSmoothLow);
drawPanel(document.getElementById('panelB'), seriesDeath, xScaleDeath, yScaleDeath, deathTickValues, deathTickLabels, 1516.2, 66.7, 1540, deathSmoothSdi, deathSmoothFit, deathSmoothHigh, deathSmoothLow);
</script>
</body>
</html>
